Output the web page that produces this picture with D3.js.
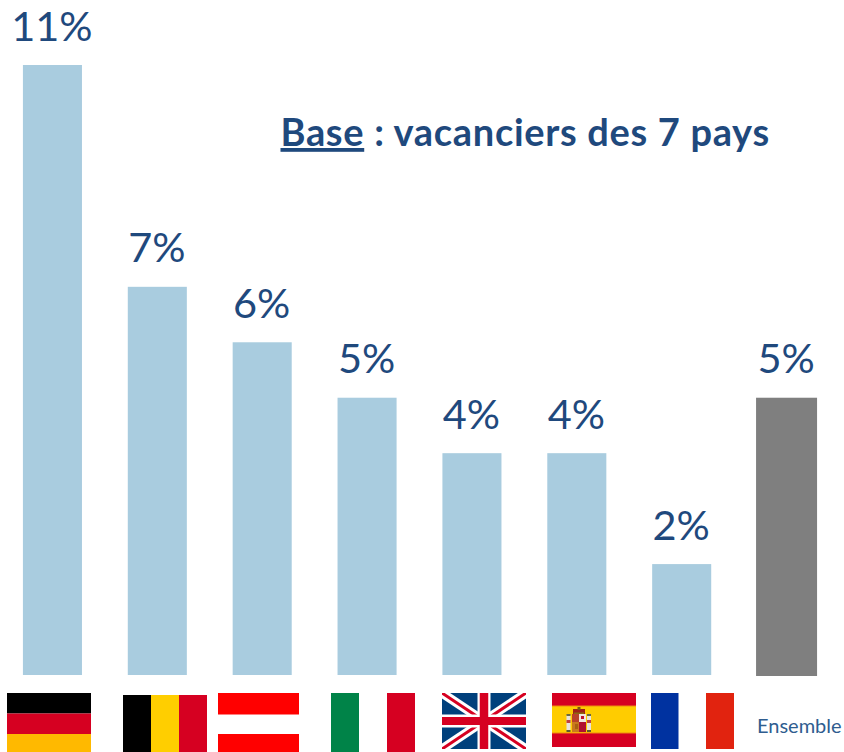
<!DOCTYPE html>
<html><head><meta charset="utf-8">
<script src="https://cdn.jsdelivr.net/npm/d3@7/dist/d3.min.js"></script>
<style>html,body{margin:0;padding:0;background:#fff}svg{display:block}text{font-family:Lato,"Open Sans",sans-serif}</style>
</head><body><div id="c"></div>
<script>
const countries=["Allemagne","Belgique","Autriche","Italie","Royaume-Uni","Espagne","France","Ensemble"];
const values=[11,7,6,5,4,4,2,5];
const labels=["11%","7%","6%","5%","4%","4%","2%","5%"];
const titleUnderlined="Base";
const titleRest=" : vacanciers des 7 pays";
const totalLabel="Ensemble";

const W=844,H=752,ink="#1F497D",barBlue="#A9CCDF",barGrey="#7F7F7F";
const svg=d3.select("#c").append("svg").attr("width",W).attr("height",H);
const x=d3.scaleBand().domain(countries).range([0,839]).paddingInner(0.437).paddingOuter(0.2185);
const y=d3.scaleLinear().domain([0,11]).range([675,65]);
const cx=c=>x(c)+x.bandwidth()/2;

svg.selectAll("rect.bar").data(countries).join("rect").attr("class","bar")
  .attr("x",c=>c==="Ensemble"?cx(c)-30.5:x(c)).attr("width",c=>c==="Ensemble"?61:x.bandwidth())
  .attr("y",(c,i)=>y(values[i])).attr("height",(c,i)=>y(0)-y(values[i])+(c==="Ensemble"?1:0))
  .attr("fill",c=>c==="Ensemble"?barGrey:barBlue);

svg.selectAll("text.lab").data(countries).join("text").attr("class","lab")
  .attr("x",c=>cx(c)-0.5).attr("y",(c,i)=>y(values[i])-24.5).attr("text-anchor","middle")
  .attr("font-size",41.5).attr("fill",ink).text((c,i)=>labels[i]);

const t=svg.append("text").attr("x",280.5).attr("y",146).attr("font-size",38).attr("font-weight",700)
  .attr("letter-spacing",0.68).attr("fill",ink);
t.append("tspan").attr("text-decoration","underline").text(titleUnderlined);
t.append("tspan").style("white-space","pre").text(titleRest);

svg.append("text").attr("x",757).attr("y",733).attr("font-size",20).attr("fill","#2F5D8F").text(totalLabel);

// flags
const g=svg.append("g");
const R=(x0,y0,w,h,f)=>g.append("rect").attr("x",x0).attr("y",y0).attr("width",w).attr("height",h).attr("fill",f);
// Germany
R(7,693,84,20.5,"#000");R(7,713.5,84,20.5,"#D60021");R(7,734,84,18,"#FFB900");
// Belgium
R(123,695,28,57,"#000");R(151,695,28,57,"#FFCE00");R(179,695,28,57,"#D60021");
// Austria
R(218,693,81,21.5,"#F00");R(218,734,81,18,"#F00");
// Italy
R(331,693,28,59,"#008348");R(387,693,28,59,"#D60021");
// UK
const ux=442,uy=693,uw=84,uh=56;
const defs=svg.append("defs");
defs.append("clipPath").attr("id","uk").append("rect").attr("x",ux).attr("y",uy).attr("width",uw).attr("height",uh);
const uk=g.append("g").attr("clip-path","url(#uk)");
uk.append("rect").attr("x",ux).attr("y",uy).attr("width",uw).attr("height",uh).attr("fill","#00407C");
const diag=(sw,col)=>{[[ux,uy,ux+uw,uy+uh],[ux,uy+uh,ux+uw,uy]].forEach(d=>uk.append("line").attr("x1",d[0]).attr("y1",d[1]).attr("x2",d[2]).attr("y2",d[3]).attr("stroke",col).attr("stroke-width",sw));};
diag(9,"#fff");diag(3,"#D60021");
uk.append("rect").attr("x",ux+uw/2-6.5).attr("y",uy).attr("width",13).attr("height",uh).attr("fill","#fff");
uk.append("rect").attr("x",ux).attr("y",uy+uh/2-6.5).attr("width",uw).attr("height",13).attr("fill","#fff");
uk.append("rect").attr("x",ux+uw/2-4.25).attr("y",uy).attr("width",8.5).attr("height",uh).attr("fill","#D60021");
uk.append("rect").attr("x",ux).attr("y",uy+uh/2-4).attr("width",uw).attr("height",8).attr("fill","#D60021");
// Spain
R(552,693,84,54,"#D60021");R(552,706,84,27,"#FFCC00");R(552,705.5,84,1,"#EE8A10");R(552,732.5,84,1,"#EE8A10");
// pillars
[566.5,587].forEach(px=>{R(px,715,4,15,"#E8E4DC");R(px,720,4,3,"#C04040");R(px,714,4,2,"#6A6A40");R(px,730,4,2,"#5A5A30");});
// shield
R(572,714,14,18,"#C9781E");R(579,714,7,8,"#F0E6E0");R(579,722,7,10,"#B01030");R(572,714,7,8,"#B8402A");
R(581,716,3,3,"#C01030");R(575,724,3,5,"#A86010");
// crown
R(573,709,12,5,"#A02018");R(574,712.5,10,1.5,"#8A6A10");R(577.5,707,3,3,"#7A5A10");
// France
R(651,693,27.5,56,"#0032A0");R(706,693,28,56,"#E1230F");
</script></body></html>
